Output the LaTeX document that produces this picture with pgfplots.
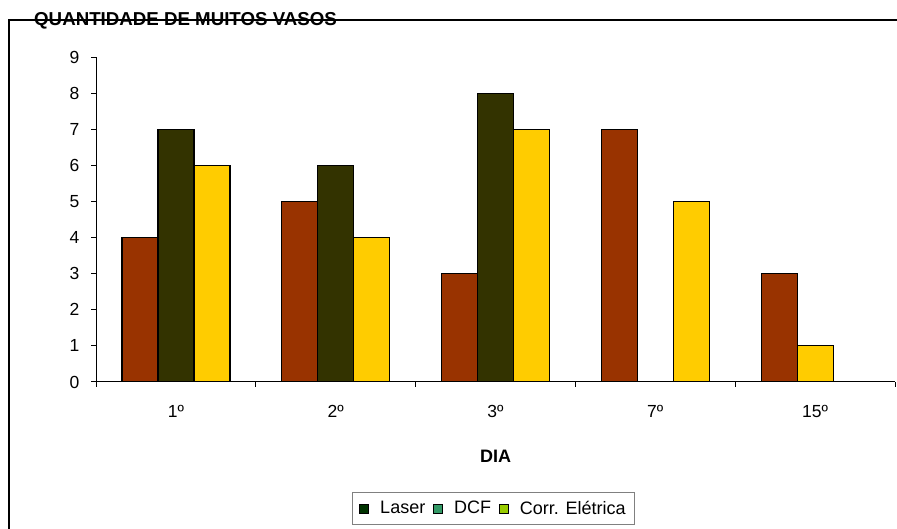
\documentclass[border=0pt]{standalone}
\usepackage{fontspec}
\setmainfont{Liberation Sans}
\usepackage{pgfplots}
\pgfplotsset{compat=1.18}

\definecolor{brick}{HTML}{993300}
\definecolor{darkolive}{HTML}{333300}
\definecolor{sun}{HTML}{FFCC00}
\definecolor{laser}{HTML}{003300}
\definecolor{dcf}{HTML}{339966}
\definecolor{corr}{HTML}{99CC00}

\pgfplotsset{
  sqlegend/.style={legend image code/.code={\draw[##1] (0pt,-4.5pt) rectangle (9pt,4.5pt);}},
  vaso/.style={ybar, bar width=36pt, draw=black, line width=1.2pt, forget plot},
}

\begin{document}
\begin{tikzpicture}
\useasboundingbox (0pt,0pt) rectangle (897pt,529pt);
% chart frame (top and left edges)
\draw[line width=2pt] (9pt,-2pt) -- (9pt,508.5pt) -- (899pt,508.5pt);
\node[anchor=base west, inner sep=0pt, font=\fontsize{18.7}{20}\selectfont\bfseries]
  at (34pt,503.3pt) {QUANTIDADE DE MUITOS VASOS};
\begin{axis}[
  at={(96pt,147pt)}, anchor=south west,
  scale only axis, width=799pt, height=325pt,
  xmin=0.5, xmax=5.5, ymin=0, ymax=9,
  axis x line=bottom, axis y line=left,
  axis line style={-, line width=1pt},
  ytick={0,...,9},
  xtick={0.5,1.5,...,5.5},
  xticklabels={{},{},{},{},{},{}},
  extra x ticks={1,...,5},
  extra x tick labels={1º,2º,3º,7º,15º},
  extra x tick style={major tick length=0pt},
  tick align=outside, major tick length=5pt,
  tick style={black, line width=1pt},
  ticklabel style={font=\fontsize{17.5}{20}\selectfont},
  /pgf/number format/assume math mode=true,
  xticklabel style={yshift=-20pt},
  yticklabel style={xshift=-8pt},
  legend style={at={(axis description cs:0.4975,-0.389)}, anchor=center,
    draw=gray, line width=1pt, font=\fontsize{18}{20}\selectfont,
    inner xsep=7pt, inner ysep=6.5pt},
  legend columns=3,
  legend cell align=left,
  every axis legend/.append style={
    /tikz/every odd column/.append style={column sep=9pt},
    /tikz/every even column/.append style={column sep=6pt}},
]
\addplot[vaso, bar shift=-36pt, fill=brick] coordinates {(1,4) (2,5) (3,3) (4,7) (5,3)};
\addplot[vaso, bar shift=0pt, fill=darkolive] coordinates {(1,7) (2,6) (3,8)};
\addplot[vaso, bar shift=36pt, fill=sun] coordinates {(1,6) (2,4) (3,7) (4,5)};
\addplot[vaso, bar shift=0pt, fill=sun] coordinates {(5,1)};
\addlegendimage{sqlegend, fill=laser, draw=black, line width=0.8pt}
\addlegendentry{Laser}
\addlegendimage{sqlegend, fill=dcf, draw=black, line width=0.8pt}
\addlegendentry{DCF}
\addlegendimage{sqlegend, fill=corr, draw=black, line width=0.8pt}
\addlegendentry{Corr. Elétrica}
\end{axis}
\node[font=\fontsize{18}{20}\selectfont\bfseries] at (495.5pt,73pt) {DIA};
\end{tikzpicture}
\end{document}
